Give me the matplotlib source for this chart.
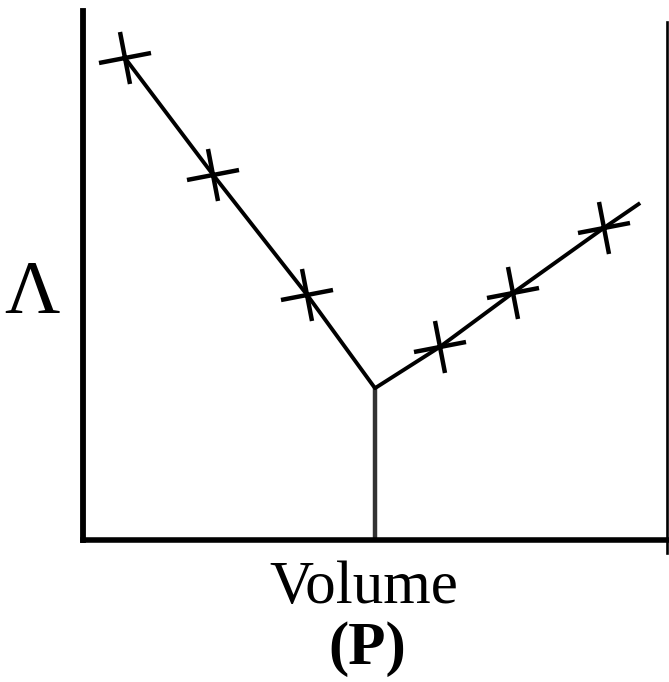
import matplotlib
matplotlib.use("Agg")
import matplotlib.pyplot as plt
from matplotlib.markers import MarkerStyle
from matplotlib.transforms import Affine2D

# Data (arbitrary units)
acid_x = [0.72, 2.23, 3.84]          # descending branch, markers
acid_y = [9.11, 6.90, 4.63]
eq_x = 5.0                           # equivalence point
eq_y = 2.87
base_x = [6.11, 7.36, 8.92]          # ascending branch, markers
base_y = [3.65, 4.67, 5.90]
end_x = 9.54
end_y = 6.37

W, H = 669, 682
fig = plt.figure(figsize=(W / 100, H / 100), dpi=100)
L, R, T, B = 83, 667, 11, 540
ax = fig.add_axes([L / W, 1 - B / H, (R - L) / W, (B - T) / H])
ax.set_xlim(0, 10)
ax.set_ylim(0, 10)

line_x = acid_x + [eq_x] + base_x + [end_x]
line_y = acid_y + [eq_y] + base_y + [end_y]
ax.plot(line_x, line_y, color="black", lw=2.8, solid_capstyle="butt", zorder=3)

mk = MarkerStyle("+", transform=Affine2D().rotate_deg(10))
ax.plot(acid_x + base_x, acid_y + base_y, linestyle="none", marker=mk,
        markersize=38, markeredgewidth=3.2, color="black", zorder=4)

# vertical line at the equivalence point
ax.plot([eq_x, eq_x], [0, eq_y], color="#333333", lw=3.2, zorder=2)

for s in ["top", "right"]:
    ax.spines[s].set_visible(False)
ax.spines["left"].set_linewidth(4.2)
ax.spines["bottom"].set_linewidth(4.0)
ax.spines["left"].set_color("black")
ax.spines["bottom"].set_color("black")
ax.plot([1, 1], [-0.025, 0.979], transform=ax.transAxes, color="black",
        lw=1.9, clip_on=False)
ax.set_xticks([])
ax.set_yticks([])

serif = ["Liberation Serif", "DejaVu Serif"]
fig.text(32 / W, 1 - 294 / H, "Λ", family=serif, fontsize=55,
         ha="center", va="center")
fig.text(364 / W, 1 - 603 / H, "Volume", family=serif, fontsize=44,
         ha="center", va="baseline")
fig.text(367 / W, 1 - 649 / H, "(P)", family=serif, fontsize=44,
         fontweight="bold", ha="center", va="center")

fig.savefig("out.png", dpi=100, facecolor="white")
